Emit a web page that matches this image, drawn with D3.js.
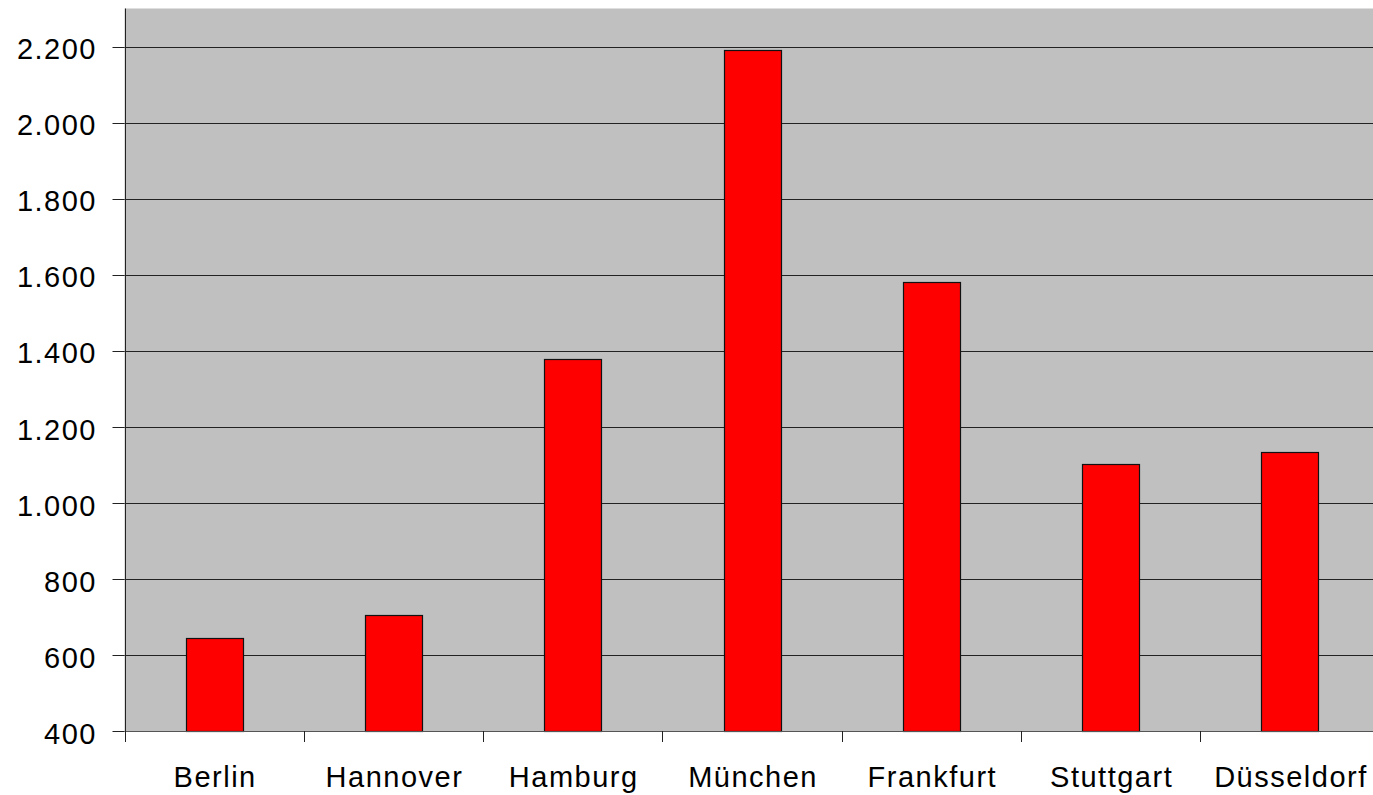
<!DOCTYPE html>
<meta charset="utf-8">
<style>
  body { margin: 0; background: white; }
  text { font-family: "Liberation Sans", Arial, sans-serif; font-size: 29px; letter-spacing: 1.5px; fill: #000; }
</style>
<svg width="1373" height="795"></svg>
<script src="https://d3js.org/d3.v7.min.js"></script>
<script>

var cities = ["Berlin", "Hannover", "Hamburg", "München", "Frankfurt", "Stuttgart", "Düsseldorf"];
var values = [645, 705, 1378, 2190, 1582, 1103, 1135];
var yTicks = [400, 600, 800, 1000, 1200, 1400, 1600, 1800, 2000, 2200];

var svg = d3.select("svg"),
    plotLeft = 124.5, plotRight = 1379.6, plotTop = 8.5, plotBottom = 731;

var x = d3.scaleBand().domain(cities).range([plotLeft, plotRight]),
    y = d3.scaleLinear().domain([400, 2300]).range([plotBottom, plotTop]);

var fmt = function(v) { return d3.format(",")(v).replace(/,/g, "."); };
var px = function(v) { return Math.round(v) + 0.5; };

// plot background
svg.append("rect")
    .attr("x", plotLeft).attr("y", plotTop)
    .attr("width", plotRight - plotLeft).attr("height", plotBottom - plotTop)
    .attr("fill", "#c0c0c0");

// gridlines
svg.selectAll(".grid")
  .data(yTicks.slice(1))
  .enter().append("line")
    .attr("x1", plotLeft).attr("x2", plotRight)
    .attr("y1", function(d) { return px(y(d)); })
    .attr("y2", function(d) { return px(y(d)); })
    .attr("stroke", "#222").attr("stroke-width", 1);

// bars
var barW = x.bandwidth() * 0.318;
svg.selectAll(".bar")
  .data(values)
  .enter().append("rect")
    .attr("class", "bar")
    .attr("x", function(d, i) { return Math.round(x(cities[i]) + (x.bandwidth() - barW) / 2) + 0.5; })
    .attr("y", function(d) { return px(y(d)); })
    .attr("width", Math.round(barW))
    .attr("height", function(d) { return px(plotBottom) - px(y(d)); })
    .attr("fill", "#ff0000")
    .attr("stroke", "#111").attr("stroke-width", 1.2);

// x axis line
svg.append("line")
    .attr("x1", plotLeft).attr("x2", plotRight)
    .attr("y1", px(plotBottom)).attr("y2", px(plotBottom))
    .attr("stroke", "#555");

// x ticks at band boundaries
svg.selectAll(".xtick")
  .data(cities)
  .enter().append("line")
    .attr("x1", function(d) { return px(x(d)); })
    .attr("x2", function(d) { return px(x(d)); })
    .attr("y1", plotBottom).attr("y2", plotBottom + 11)
    .attr("stroke", "#222");

// y axis line
svg.append("line")
    .attr("x1", px(plotLeft)).attr("x2", px(plotLeft))
    .attr("y1", plotTop).attr("y2", plotBottom + 11)
    .attr("stroke", "#222");

// y ticks and labels
svg.selectAll(".ytick")
  .data(yTicks)
  .enter().append("line")
    .attr("x1", plotLeft - 12).attr("x2", plotLeft)
    .attr("y1", function(d) { return px(y(d)); })
    .attr("y2", function(d) { return px(y(d)); })
    .attr("stroke", "#222");

svg.selectAll(".ylabel")
  .data(yTicks)
  .enter().append("text")
    .attr("x", 97)
    .attr("y", function(d) { return y(d); })
    .attr("dy", "0.44em")
    .attr("text-anchor", "end")
    .text(fmt);

// category labels
svg.selectAll(".xlabel")
  .data(cities)
  .enter().append("text")
    .attr("x", function(d) { return x(d) + x.bandwidth() / 2 + 1; })
    .attr("y", 787)
    .attr("text-anchor", "middle")
    .text(function(d) { return d; });

</script>
